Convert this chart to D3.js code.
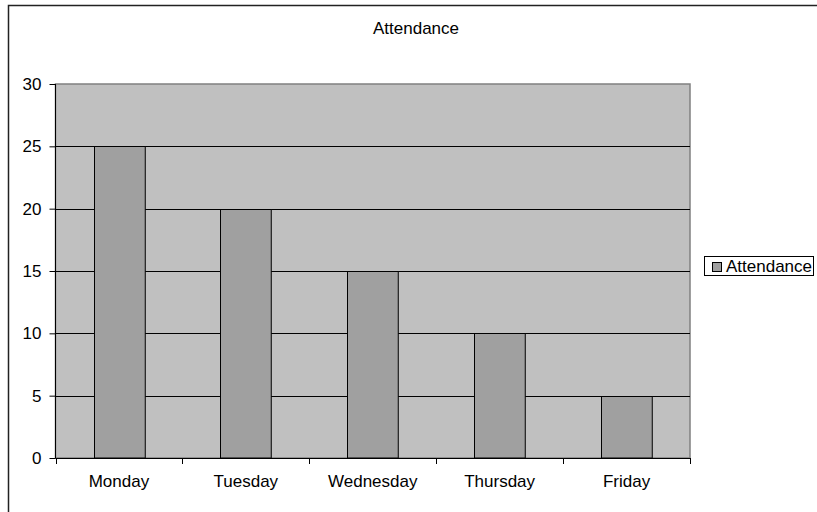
<!DOCTYPE html>
<html><head><meta charset="utf-8">
<script src="https://cdn.jsdelivr.net/npm/d3@7"></script>
<style>body{margin:0;background:#fff}svg{display:block}text{font-family:"Liberation Sans",Arial,sans-serif;fill:#000}</style>
</head><body>
<svg id="c" width="817" height="512"></svg>
<script>
const categories = ["Monday","Tuesday","Wednesday","Thursday","Friday"];
const attendance = [25,20,15,10,5];
const yTicks = [0,5,10,15,20,25,30];
const seriesName = "Attendance";
const chartTitle = "Attendance";

const svg = d3.select("#c");
const plot = {left:55.5, right:690, top:84, bottom:458};

svg.append("rect").attr("x",8.5).attr("y",5.5).attr("width",830).attr("height",530)
  .attr("fill","#fff").attr("stroke","#222").attr("stroke-width",1.5);

const x = d3.scaleBand().domain(categories).range([plot.left, plot.right]).paddingInner(0.6).paddingOuter(0.3);
const xb = d3.scaleBand().domain(categories).range([plot.left, plot.right]);
const y = d3.scaleLinear().domain([0,30]).range([plot.bottom, plot.top]);

svg.append("rect").attr("x",plot.left).attr("y",plot.top).attr("width",plot.right-plot.left).attr("height",plot.bottom-plot.top)
  .attr("fill","#c0c0c0").attr("stroke","#808080").attr("stroke-width",1.5);

svg.append("g").selectAll("line").data(yTicks.filter(t=>t>0 && t<30)).join("line")
  .attr("x1",plot.left).attr("x2",plot.right).attr("y1",d=>Math.round(y(d))+0.5).attr("y2",d=>Math.round(y(d))+0.5)
  .attr("stroke","#000").attr("stroke-width",1);

svg.append("g").selectAll("rect").data(attendance).join("rect")
  .attr("x",(d,i)=>Math.round(x(categories[i]))+0.5).attr("width",x.bandwidth())
  .attr("y",d=>Math.round(y(d))+0.5).attr("height",d=>y(0)-Math.round(y(d))-0.5)
  .attr("fill","#a0a0a0").attr("stroke","#000").attr("stroke-width",1);

// y axis
const yAxis = d3.axisLeft(y).tickValues(yTicks).tickSize(6).tickPadding(8);
const gy = svg.append("g").attr("transform",`translate(${plot.left},0)`).call(yAxis);
gy.select(".domain").attr("stroke","#000").attr("d",`M0,${plot.top}V${plot.bottom}`);
gy.selectAll(".tick line").attr("stroke","#000");
gy.selectAll("text").style("font-size","17px").attr("font-family","Liberation Sans, Arial, sans-serif").attr("fill","#000");

// x axis
const gx = svg.append("g").attr("transform",`translate(0,${plot.bottom})`);
gx.append("line").attr("x1",plot.left).attr("x2",plot.right).attr("y1",0.5).attr("y2",0.5).attr("stroke","#000");
const bounds = categories.map(c=>xb(c)).concat([plot.right]);
gx.selectAll("line.t").data(bounds).join("line").attr("class","t")
  .attr("x1",d=>Math.round(d)+0.5).attr("x2",d=>Math.round(d)+0.5).attr("y1",0).attr("y2",6).attr("stroke","#000");
gx.selectAll("text").data(categories).join("text")
  .attr("x",d=>xb(d)+xb.bandwidth()/2).attr("y",29).attr("text-anchor","middle")
  .style("font-size","17px").text(d=>d);

// title
svg.append("text").attr("x",416).attr("y",34).attr("text-anchor","middle").style("font-size","17px").text(chartTitle);

// legend
const lg = svg.append("g");
lg.append("rect").attr("x",704.5).attr("y",256.5).attr("width",109).attr("height",19).attr("fill","#fff").attr("stroke","#000");
lg.append("rect").attr("x",712.5).attr("y",262.5).attr("width",9).attr("height",9).attr("fill","#a0a0a0").attr("stroke","#000");
lg.append("text").attr("x",726).attr("y",272).style("font-size","17px").text(seriesName);
</script>
</body></html>
